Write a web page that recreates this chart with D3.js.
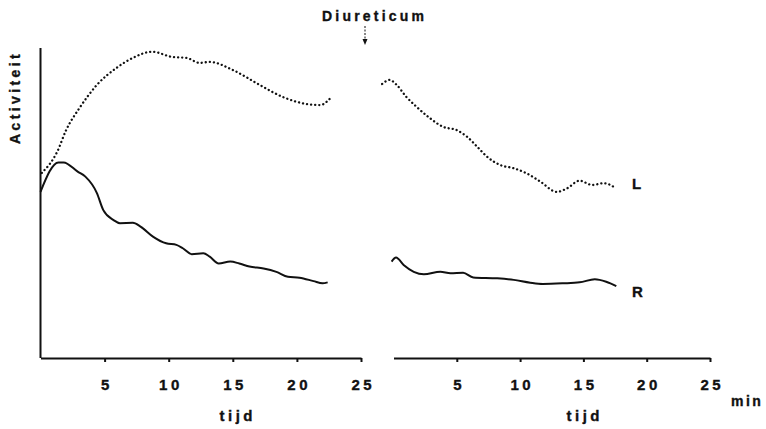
<!doctype html>
<html lang="en">
<head>
  <meta charset="utf-8" />
  <title>Activiteit - Diureticum</title>
  <script src="https://d3js.org/d3.v7.min.js"></script>
  <style>
    body { margin: 0; background: #fff; }
    text { font-family: "Liberation Sans", Arial, sans-serif; font-weight: bold; fill: #111; stroke: #111; stroke-width: 0.35px; }
  </style>
</head>
<body>
<script type="text/javascript">

  // tick labels (minutes)
  var tickValues = [5, 10, 15, 20, 25];

  // left panel (before diureticum), time in min, activity in arbitrary units
  var leftL_t = [0.1, 1.3, 2.0, 3.1, 4.4, 5.9, 7.2, 8.7, 10.3, 11.4, 12.4, 13.2, 15.0, 17.1, 18.9, 20.8, 21.8, 22.7];
  var leftL_v = [59.7, 66.5, 73.5, 81.0, 88.1, 93.5, 96.8, 98.8, 97.1, 96.8, 95.2, 95.5, 92.9, 88.1, 84.2, 81.9, 81.6, 84.2];

  var leftR_t = [0, 1.4, 1.8, 2.9, 3.5, 4.4, 4.9, 5.7, 6.2, 7.2, 7.8, 8.8, 9.8, 10.6, 11.1, 11.8, 12.7, 13.2, 13.9, 14.8, 15.5, 16.3, 17.4, 18.4, 19.3, 20.2, 21.3, 22.0, 22.4];
  var leftR_v = [53.6, 63.1, 63.1, 60.1, 58.5, 53.2, 47.7, 44.5, 43.5, 43.6, 42.4, 39.1, 37.0, 36.5, 35.4, 33.5, 33.8, 32.7, 30.5, 31.1, 30.5, 29.5, 28.9, 27.8, 26.2, 25.9, 24.8, 24.1, 24.4];

  // right panel (after diureticum)
  var rightL_t = [-0.9, -0.3, 0.25, 1.0, 1.8, 2.9, 3.9, 5.0, 5.8, 6.6, 7.4, 8.4, 9.5, 10.5, 11.6, 12.9, 13.7, 14.7, 15.7, 16.6, 17.6];
  var rightL_v = [88.4, 89.7, 88.1, 84.3, 81.1, 77.3, 74.6, 73.5, 71.4, 68.2, 64.9, 62.3, 61.2, 59.6, 56.9, 53.6, 54.7, 57.2, 55.8, 56.4, 54.7];

  var rightR_t = [-0.15, 0.2, 0.8, 1.6, 2.4, 3.7, 4.5, 5.5, 6.3, 8.2, 9.5, 10.8, 11.8, 13.4, 14.7, 15.9, 16.8, 17.6];
  var rightR_v = [31.1, 32.4, 30.0, 27.8, 27.0, 27.8, 27.3, 27.5, 26.0, 25.7, 25.2, 24.3, 23.9, 24.1, 24.4, 25.4, 24.6, 23.2];

  var width = 766, height = 429;

  var svg = d3.select("body").append("svg")
    .attr("width", width)
    .attr("height", height);

  var xL = d3.scaleLinear().domain([0, 25]).range([40.5, 361]);
  var xR = d3.scaleLinear().domain([0, 25]).range([393.5, 710]);
  var y = d3.scaleLinear().domain([0, 100]).range([358, 48]);

  function zip(t, v) {
    return t.map(function(d, i) { return { t: d, v: v[i] }; });
  }

  function drawAxis(x) {
    var g = svg.append("g")
      .attr("transform", "translate(0," + y(0) + ")")
      .call(d3.axisBottom(x).tickValues(tickValues).tickSize(4).tickPadding(17).tickSizeOuter(0));
    g.select(".domain").attr("stroke", "#111").attr("stroke-width", 2);
    g.selectAll(".tick line").attr("stroke", "#111").attr("stroke-width", 2);
    g.selectAll(".tick text")
      .attr("fill", "#111")
      .attr("font-size", 15)
      .attr("font-family", "Liberation Sans, Arial, sans-serif")
      .attr("font-weight", "bold")
      .style("letter-spacing", "3.5px")
      .attr("dx", "1.75px");
    return g;
  }

  drawAxis(xL);
  drawAxis(xR);

  // y axis (no ticks)
  svg.append("line")
    .attr("x1", 40.5).attr("x2", 40.5)
    .attr("y1", y(100)).attr("y2", y(0))
    .attr("stroke", "#111").attr("stroke-width", 2);

  function drawLine(x, t, v, dotted) {
    var line = d3.line()
      .x(function(d) { return x(d.t); })
      .y(function(d) { return y(d.v); })
      .curve(d3.curveMonotoneX);
    var p = svg.append("path")
      .datum(zip(t, v))
      .attr("fill", "none")
      .attr("stroke", "#111")
      .attr("d", line);
    if (dotted) {
      p.attr("stroke-width", 2.3)
        .attr("stroke-linecap", "round")
        .attr("stroke-dasharray", "0.1,4");
    } else {
      p.attr("stroke-width", 2)
        .attr("stroke-linejoin", "round");
    }
  }

  drawLine(xL, leftL_t, leftL_v, true);
  drawLine(xL, leftR_t, leftR_v, false);
  drawLine(xR, rightL_t, rightL_v, true);
  drawLine(xR, rightR_t, rightR_v, false);

  // labels
  svg.append("text")
    .attr("transform", "translate(19.5,144) rotate(-90)")
    .attr("font-size", 14)
    .style("letter-spacing", "3.4px")
    .text("Activiteit");

  svg.append("text")
    .attr("x", 322).attr("y", 21)
    .attr("font-size", 14)
    .style("letter-spacing", "3.2px")
    .text("Diureticum");

  // arrow
  svg.append("line")
    .attr("x1", 365).attr("x2", 365)
    .attr("y1", 26).attr("y2", 40)
    .attr("stroke", "#111").attr("stroke-width", 1)
    .attr("stroke-dasharray", "2,1.5");
  svg.append("path")
    .attr("d", "M362.5,39 L367.5,39 L365,45 Z")
    .attr("fill", "#111");

  svg.append("text")
    .attr("x", 236).attr("y", 421)
    .attr("text-anchor", "middle")
    .attr("dx", "1.75px")
    .attr("font-size", 15)
    .style("letter-spacing", "3.5px")
    .text("tijd");

  svg.append("text")
    .attr("x", 583).attr("y", 421)
    .attr("text-anchor", "middle")
    .attr("dx", "1.75px")
    .attr("font-size", 15)
    .style("letter-spacing", "3.5px")
    .text("tijd");

  svg.append("text")
    .attr("x", 731).attr("y", 406)
    .attr("font-size", 14)
    .style("letter-spacing", "2.5px")
    .text("min");

  svg.append("text")
    .attr("x", 632).attr("y", 189)
    .attr("font-size", 15)
    .text("L");

  svg.append("text")
    .attr("x", 632).attr("y", 297)
    .attr("font-size", 15)
    .text("R");

</script>
</body>
</html>
